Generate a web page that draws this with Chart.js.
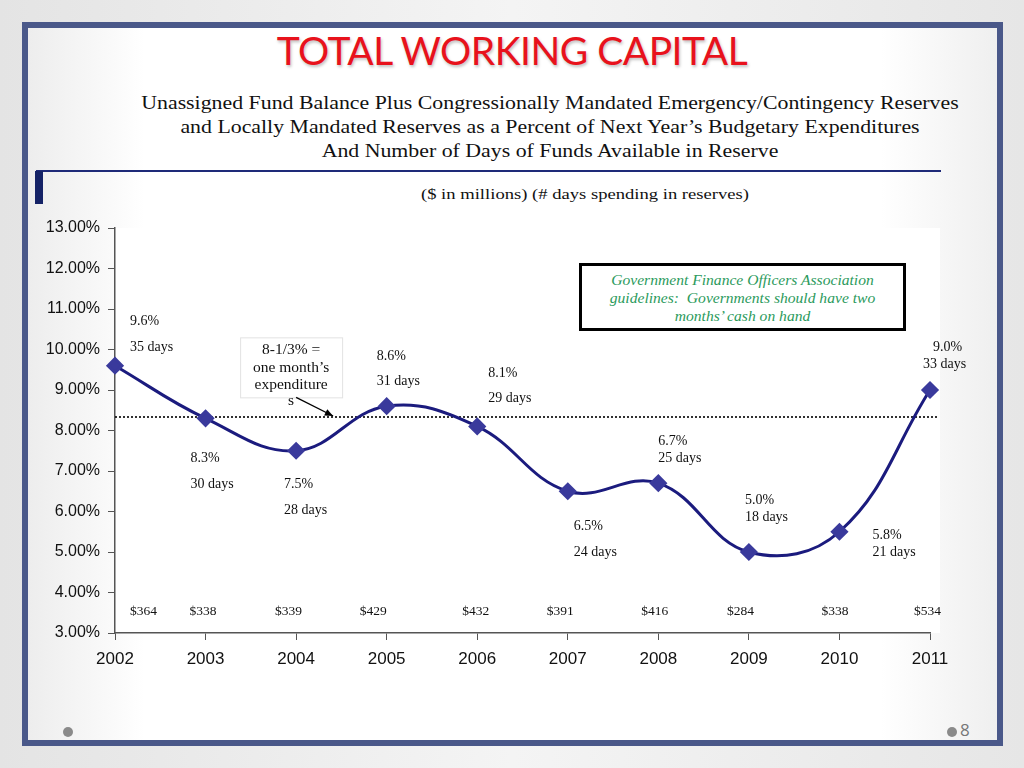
<!DOCTYPE html>
<html>
<head>
<meta charset="utf-8">
<script src="https://cdn.jsdelivr.net/npm/chart.js@4.4.1/dist/chart.umd.min.js"></script>
<style>
  html, body { margin: 0; padding: 0; }
  body {
    width: 1024px; height: 768px; position: relative; overflow: hidden;
    background: linear-gradient(90deg, #e4e4e4 0%, #f4f4f4 50%, #e6e6e6 100%);
  }
  #frame {
    position: absolute; left: 22px; top: 22px; width: 969px; height: 712px;
    border: 6px solid #4a5889;
    background: linear-gradient(90deg, #ededed 0%, #ffffff 12%, #ffffff 88%, #efefef 100%);
  }
  #title {
    position: absolute; left: 0; width: 1024px; top: 27px; text-align: center;
    font-family: Lato, "Open Sans", sans-serif; font-size: 39px; color: #e8121c;
    text-shadow: 1px 2px 3px rgba(0,0,0,0.25); letter-spacing: -0.5px;
  }
  #sub {
    position: absolute; left: 90px; width: 920px; top: 91px; text-align: center;
    font-family: "Liberation Serif", serif; font-size: 18.5px; line-height: 24px; color: #111;
    transform: scaleX(1.18); transform-origin: 460px 0;
  }
  #rule { position: absolute; left: 36px; top: 170px; width: 905px; height: 2px; background: #1e2a78; }
  #bar { position: absolute; left: 35px; top: 171px; width: 8px; height: 33px; background: #142266; }
  #units {
    position: absolute; left: 380px; width: 410px; top: 185px; text-align: center;
    font-family: "Liberation Serif", serif; font-size: 15.5px; color: #111;
    transform: scaleX(1.2); transform-origin: 205px 0;
  }
  #gfoa {
    position: absolute; left: 579px; top: 263px; width: 321px; height: 57px; z-index: 2;
    border: 3px solid #000; background: #fff; text-align: center;
    font-family: "Liberation Serif", serif; font-style: italic; font-size: 15.6px; line-height: 18px;
    color: #2b9a5c; padding-top: 5px; box-sizing: content-box;
  }
  .dot { position: absolute; width: 10px; height: 10px; border-radius: 50%; background: #8a8a8a; }
  #pg { position: absolute; left: 960px; top: 718px; font-family: "Open Sans", sans-serif; font-size: 17px; color: #777; }
  canvas { position: absolute; left: 0; top: 0; z-index: 1; }
</style>
</head>
<body>
<div id="frame"></div>
<div id="title">TOTAL WORKING CAPITAL</div>
<div id="sub">Unassigned Fund Balance Plus Congressionally Mandated Emergency/Contingency Reserves<br>and Locally Mandated Reserves as a Percent of Next Year’s Budgetary Expenditures<br>And Number of Days of Funds Available in Reserve</div>
<div id="rule"></div>
<div id="bar"></div>
<div id="units">($ in millions) (# days spending in reserves)</div>
<div id="gfoa">Government Finance Officers Association<br>guidelines:&nbsp; Governments should have two<br>months’ cash on hand</div>
<div class="dot" style="left:63px; top:727px;"></div>
<div class="dot" style="left:947px; top:727px;"></div>
<div id="pg">8</div>
<canvas id="chart" width="1024" height="768"></canvas>
<script>
// données du graphique
const years = ['2002', '2003', '2004', '2005', '2006', '2007', '2008', '2009', '2010', '2011'];
const reservePct = [9.6, 8.3, 7.5, 8.6, 8.1, 6.5, 6.7, 5.0, 5.5, 9.0];
const pctLabels = ['9.6%', '8.3%', '7.5%', '8.6%', '8.1%', '6.5%', '6.7%', '5.0%', '5.8%', '9.0%'];
const dayLabels = ['35 days', '30 days', '28 days', '31 days', '29 days', '24 days', '25 days', '18 days', '21 days', '33 days'];
const dollarLabels = ['$364', '$338', '$339', '$429', '$432', '$391', '$416', '$284', '$338', '$534'];
const oneMonthLevel = 100 / 12;

// placement des étiquettes (décalage x en px, hauteur en unités de l'axe, écart des lignes)
const labelDx = [15, -15, -12, -10, 11, 6, 0, -4, 33, 3];
const daysDx = [15, -15, -12, -10, 11, 6, 0, -4, 33, -7];
const labelY = [10.70, 7.32, 6.68, 9.84, 9.42, 5.64, 7.74, 6.28, 5.42, 10.06];
const labelGap = [26, 26, 26, 25, 25, 26, 17, 17, 17, 17];
const dollarDx = [15, -16, -21, -27, -15, -21, -17, -22, -18, -16];
const dollarY = 3.54;

const serif = '"Liberation Serif", "Times New Roman", serif';

const annotations = {
    id: 'annotations',
    beforeDatasetsDraw(chart) {
        const { ctx, chartArea, scales: { x, y } } = chart;
        // ligne pointillée : un mois de dépenses
        ctx.save();
        ctx.strokeStyle = '#000';
        ctx.lineWidth = 1.6;
        ctx.setLineDash([2, 2]);
        const ly = y.getPixelForValue(oneMonthLevel);
        ctx.beginPath();
        ctx.moveTo(chartArea.left, ly);
        ctx.lineTo(chartArea.right + 8, ly);
        ctx.stroke();
        ctx.restore();
    },
    afterDatasetsDraw(chart) {
        const { ctx, scales: { x, y } } = chart;
        ctx.save();
        ctx.fillStyle = '#111';
        ctx.font = '14px ' + serif;
        ctx.textBaseline = 'middle';
        ctx.textAlign = 'left';
        years.forEach((yr, i) => {
            const px = x.getPixelForValue(i);
            const py = y.getPixelForValue(labelY[i]);
            ctx.fillText(pctLabels[i], px + labelDx[i], py);
            ctx.fillText(dayLabels[i], px + daysDx[i], py + labelGap[i]);
        });
        ctx.font = '13.5px ' + serif;
        years.forEach((yr, i) => {
            ctx.fillText(dollarLabels[i], x.getPixelForValue(i) + dollarDx[i], y.getPixelForValue(dollarY));
        });

        // encadré « 8-1/3% = one month's expenditures »
        const bx = x.getPixelForValue(2) - 56;
        const by = y.getPixelForValue(10.3);
        ctx.fillStyle = '#fff';
        ctx.fillRect(bx, by, 102, 60);
        ctx.strokeStyle = '#e2e2e2';
        ctx.lineWidth = 1;
        ctx.strokeRect(bx + 0.5, by + 0.5, 102, 60);
        ctx.fillStyle = '#111';
        ctx.textAlign = 'center';
        ctx.font = '15.5px ' + serif;
        ctx.fillText('8-1/3% =', bx + 51, by + 13);
        ctx.fillText('one month’s', bx + 51, by + 31);
        ctx.fillText('expenditure', bx + 51, by + 48);
        ctx.fillText('s', bx + 51, by + 64);

        // flèche
        const ax = bx + 56, ay = by + 60;
        const tx = x.getPixelForValue(2) + 37, ty = y.getPixelForValue(oneMonthLevel) - 1;
        ctx.strokeStyle = '#000';
        ctx.lineWidth = 1.3;
        ctx.beginPath();
        ctx.moveTo(ax, ay);
        ctx.lineTo(tx, ty);
        ctx.stroke();
        const ang = Math.atan2(ty - ay, tx - ax);
        ctx.beginPath();
        ctx.moveTo(tx, ty);
        ctx.lineTo(tx - 9 * Math.cos(ang - 0.4), ty - 9 * Math.sin(ang - 0.4));
        ctx.lineTo(tx - 9 * Math.cos(ang + 0.4), ty - 9 * Math.sin(ang + 0.4));
        ctx.closePath();
        ctx.fillStyle = '#000';
        ctx.fill();
        ctx.restore();
    }
};

const plotBackground = {
    id: 'plotBackground',
    beforeDraw(chart) {
        const { ctx, chartArea } = chart;
        ctx.save();
        ctx.fillStyle = '#ffffff';
        ctx.fillRect(chartArea.left, chartArea.top, chartArea.right - chartArea.left + 10, chartArea.bottom - chartArea.top);
        ctx.restore();
    }
};

new Chart(document.getElementById('chart'), {
    type: 'line',
    data: {
        labels: years,
        datasets: [{
            data: reservePct,
            borderColor: '#1b1b7e',
            borderWidth: 3,
            tension: 0.4,
            pointStyle: 'rectRot',
            pointRadius: 7,
            pointBackgroundColor: '#3a3a9c',
            pointBorderColor: '#3a3a9c',
            fill: false
        }]
    },
    options: {
        responsive: false,
        animation: false,
        layout: { padding: { left: 0, top: 228, right: 94, bottom: 0 } },
        plugins: { legend: { display: false }, tooltip: { enabled: false } },
        scales: {
            y: {
                min: 3,
                max: 13,
                afterFit: s => { s.width = 115; },
                ticks: {
                    stepSize: 1,
                    padding: 8,
                    color: '#111',
                    font: { family: '"Liberation Sans", Arial, sans-serif', size: 16 },
                    callback: v => v.toFixed(2) + '%'
                },
                grid: { drawOnChartArea: false, drawTicks: true, tickLength: 7, color: '#555' },
                border: { display: true, color: '#555', width: 1.5 }
            },
            x: {
                offset: false,
                afterFit: s => { s.height = 135; },
                ticks: {
                    padding: 9,
                    color: '#111',
                    maxRotation: 0,
                    font: { family: '"Liberation Sans", Arial, sans-serif', size: 17 }
                },
                grid: { drawOnChartArea: false, drawTicks: true, tickLength: 7, color: '#555' },
                border: { display: true, color: '#555', width: 1.5 }
            }
        }
    },
    plugins: [plotBackground, annotations]
});
</script>
</body>
</html>
